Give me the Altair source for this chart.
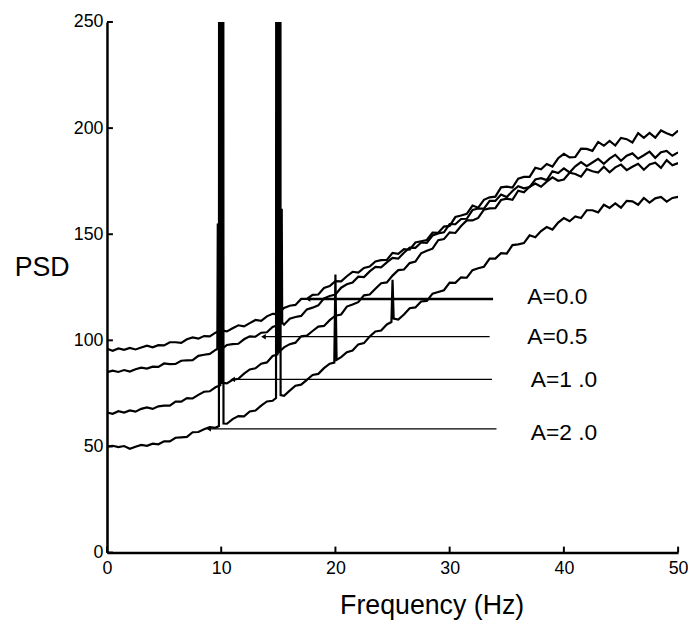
import altair as alt
import pandas as pd

FONT = "Liberation Sans, Arial, sans-serif"

# frequency grid (Hz), 0.5 Hz steps
FREQ = [i * 0.5 for i in range(101)]

# PSD values, one value per 0.5 Hz
A00 = [96.0, 95.1, 96.2, 95.5, 96.4, 95.7, 96.6, 97.5, 96.7, 97.7,
       97.6, 99.1, 99.1, 98.8, 100.5, 101.4, 100.8, 102.0, 101.9, 103.6,
       104.7, 104.2, 105.7, 107.1, 106.6, 108.1, 109.6, 109.2, 111.3, 112.5,
       112.4, 115.3, 116.3, 116.7, 119.5, 119.5, 121.4, 121.6, 124.7, 125.6,
       127.9, 127.8, 130.2, 132.3, 131.9, 134.1, 134.8, 137.2, 137.8, 137.9,
       141.2, 140.8, 143.0, 142.7, 146.1, 146.7, 147.3, 150.8, 150.7, 153.6,
       153.9, 158.1, 158.8, 159.6, 163.5, 162.5, 166.2, 167.4, 167.7, 172.1,
       172.4, 172.0, 176.2, 177.0, 177.0, 181.3, 180.6, 183.1, 181.9, 185.8,
       187.9, 186.2, 186.4, 190.3, 190.2, 189.3, 193.5, 191.7, 194.0, 191.8,
       195.4, 194.8, 193.2, 197.6, 195.4, 197.7, 195.5, 198.9, 197.6, 196.5,
       198.8]
A05 = [85.0, 85.7, 85.1, 86.0, 85.3, 86.4, 87.1, 86.7, 87.6, 87.5,
       89.1, 88.8, 88.9, 90.4, 90.6, 90.7, 92.7, 93.2, 93.6, 95.5,
       95.7, 97.8, 98.2, 98.4, 100.5, 101.9, 101.7, 103.6, 103.8, 106.3,
       107.2, 107.4, 110.2, 111.0, 111.5, 114.6, 115.4, 116.5, 119.8, 120.9,
       121.6, 124.8, 126.4, 127.2, 130.0, 129.8, 132.5, 134.6, 134.4, 136.7,
       138.8, 138.5, 141.3, 143.7, 143.6, 146.1, 145.9, 149.4, 150.4, 150.9,
       154.8, 154.7, 157.2, 157.3, 161.4, 162.1, 162.1, 165.7, 165.7, 168.7,
       167.5, 170.4, 172.6, 171.6, 172.2, 175.8, 176.4, 175.5, 179.7, 178.8,
       181.0, 179.1, 182.0, 184.0, 182.1, 183.8, 185.5, 183.2, 185.6, 187.4,
       184.6, 187.0, 188.1, 185.6, 187.2, 188.9, 186.0, 188.6, 189.3, 187.0,
       188.6]
A10 = [66.0, 65.4, 66.6, 66.0, 67.0, 66.4, 67.7, 68.4, 67.7, 68.9,
       69.2, 69.2, 71.1, 71.1, 72.8, 72.6, 74.3, 75.8, 76.0, 77.9,
       79.7, 79.7, 81.4, 81.9, 84.3, 86.3, 86.8, 89.0, 89.6, 92.6,
       93.5, 96.7, 98.2, 98.9, 101.9, 102.2, 104.4, 106.5, 106.8, 109.5,
       111.6, 112.2, 115.9, 116.9, 118.0, 121.2, 121.6, 124.3, 126.9, 127.3,
       130.5, 133.1, 133.4, 136.4, 137.1, 141.0, 142.2, 143.2, 147.2, 147.7,
       150.9, 150.6, 153.9, 156.5, 156.5, 157.7, 161.6, 162.2, 162.3, 166.1,
       166.8, 166.2, 170.5, 169.8, 172.4, 173.9, 172.4, 174.8, 176.8, 175.2,
       175.8, 179.0, 178.4, 177.1, 180.7, 179.7, 179.1, 181.8, 179.2, 181.5,
       182.8, 180.2, 181.8, 183.2, 180.4, 182.9, 183.7, 181.3, 184.9, 182.5,
       183.5]
A20 = [50.0, 50.3, 49.7, 50.2, 48.9, 49.9, 50.7, 50.3, 51.3, 51.0,
       52.4, 52.4, 54.1, 54.3, 54.5, 56.7, 56.8, 58.1, 59.1, 58.8,
       60.3, 60.7, 62.9, 64.3, 64.2, 66.5, 66.9, 69.2, 71.2, 71.5,
       73.5, 73.9, 76.3, 78.6, 79.1, 81.4, 83.7, 84.2, 86.9, 89.0,
       89.4, 92.1, 94.4, 95.2, 98.1, 98.7, 101.8, 104.2, 104.6, 107.5,
       109.9, 109.8, 112.2, 115.1, 115.5, 118.3, 118.6, 122.0, 122.8, 123.6,
       127.2, 127.1, 129.7, 129.5, 133.1, 134.0, 134.7, 138.5, 138.5, 141.1,
       140.9, 144.9, 145.2, 145.8, 149.5, 148.6, 151.5, 153.4, 152.2, 155.5,
       157.6, 156.1, 158.4, 157.6, 161.3, 161.3, 160.3, 163.9, 162.4, 164.5,
       162.5, 165.7, 165.5, 163.9, 167.1, 164.9, 166.9, 167.6, 165.4, 167.1,
       167.6]

CURVES = ["A=0.0", "A=0.5", "A=1 .0", "A=2 .0"]
SERIES = [A00, A05, A10, A20]
DC_VALUE = 0.0  # PSD at 0 Hz

# harmonic peaks (frequency, PSD); large values run off the top of the plot
SPIKES = {
    "A=0.5": [[(9.66, 95.9), (9.7, 155.0), (9.74, 96.2)],
              [(15.26, 108.0), (15.3, 162.0), (15.34, 108.4)]],
    "A=1 .0": [[(9.92, 78.8), (9.95, 400.0), (10.05, 400.0), (10.08, 80.0)],
               [(14.92, 93.3), (14.95, 400.0), (15.05, 400.0), (15.08, 94.6)]],
    "A=2 .0": [[(9.8, 59.6), (9.82, 400.0), (10.18, 400.0), (10.2, 60.8)],
               [(14.8, 72.8), (14.82, 400.0), (15.18, 400.0), (15.2, 74.2)],
               [(19.9, 89.5), (20.0, 131.0), (20.1, 90.8)],
               [(24.9, 108.6), (25.0, 128.5), (25.1, 110.2)]],
}

# annotation pointers and labels
POINTER_Y = [119.5, 101.7, 81.6, 58.3]
POINTER_X0 = [17.6, 13.7, 11.0, 8.9]
POINTER_X1 = [33.8, 33.5, 33.7, 34.1]
POINTER_W = [2.5, 1.3, 1.3, 1.3]
LABEL_X = [36.8, 36.8, 37.1, 37.1]
LABEL_Y = [120.3, 101.7, 81.2, 56.4]

X_TICKS = [0, 10, 20, 30, 40, 50]
Y_TICKS = [0, 50, 100, 150, 200, 250]

rows = []
for name, vals in zip(CURVES, SERIES):
    base = list(zip(FREQ, vals))
    groups = SPIKES.get(name, [])
    for g in groups:
        lo = min(p[0] for p in g)
        hi = max(p[0] for p in g)
        base = [p for p in base if not (lo <= p[0] <= hi)]
    merged = sorted(base + [p for g in groups for p in g])
    pts = [(0.0, DC_VALUE)] + merged
    for i, (f, v) in enumerate(pts):
        rows.append({"curve": name, "f": f, "psd": v, "i": i})
df = pd.DataFrame(rows)

ptr = pd.DataFrame({"label": CURVES, "y": POINTER_Y, "x0": POINTER_X0,
                    "x1": POINTER_X1, "w": POINTER_W,
                    "lx": LABEL_X, "ly": LABEL_Y})

xs = alt.Scale(domain=[0, 50], nice=False, zero=False)
ys = alt.Scale(domain=[0, 250], nice=False)

x_axis = alt.Axis(values=X_TICKS, ticks=False, grid=False, domainWidth=2.5,
                  domainColor="black", labelFontSize=18, labelFont=FONT,
                  labelColor="black", labelPadding=7, labelFlush=False,
                  title="Frequency (Hz)", titleFont=FONT, titleFontSize=27,
                  titleFontWeight="normal", titleColor="black",
                  titleX=328, titleY=62, titleAlign="center",
                  titleBaseline="alphabetic")
y_axis = alt.Axis(values=Y_TICKS, ticks=False, grid=False, domainWidth=2.5,
                  domainColor="black", labelFontSize=18, labelFont=FONT,
                  labelColor="black", labelPadding=4,
                  title="PSD", titleFont=FONT, titleFontSize=27,
                  titleFontWeight="normal", titleColor="black", titleAngle=0,
                  titleX=-66, titleY=248, titleAlign="center",
                  titleBaseline="middle")

lines = alt.Chart(df).mark_line(color="black", strokeWidth=2.2, clip=True).encode(
    x=alt.X("f:Q", scale=xs, axis=x_axis),
    y=alt.Y("psd:Q", scale=ys, axis=y_axis),
    detail="curve:N",
    order=alt.Order("i:Q"),
)

pointers = alt.Chart(ptr).mark_rule(color="black").encode(
    x=alt.X("x0:Q", scale=xs),
    x2="x1:Q",
    y=alt.Y("y:Q", scale=ys),
    strokeWidth=alt.StrokeWidth("w:Q", scale=None),
)

heads = alt.Chart(ptr).mark_point(shape="triangle-left", filled=True,
                                  color="black", size=30, opacity=1).encode(
    x=alt.X("x0:Q", scale=xs),
    y=alt.Y("y:Q", scale=ys),
)

labels = alt.Chart(ptr).mark_text(align="left", baseline="middle", font=FONT,
                                  fontSize=23, color="black").encode(
    x=alt.X("lx:Q", scale=xs),
    y=alt.Y("ly:Q", scale=ys),
    text="label:N",
)

xt = pd.DataFrame({"v": X_TICKS})
yt = pd.DataFrame({"v": Y_TICKS})
xticks = alt.Chart(xt).mark_rule(color="black", strokeWidth=2).encode(
    x=alt.X("v:Q", scale=xs), y=alt.value(536), y2=alt.value(530))
yticks = alt.Chart(yt).mark_rule(color="black", strokeWidth=2).encode(
    y=alt.Y("v:Q", scale=ys), x=alt.value(0), x2=alt.value(6))

chart = alt.layer(lines, pointers, heads, labels, xticks, yticks).properties(
    width=577, height=536,
    padding={"left": 100, "top": 11, "right": 10, "bottom": 67},
    autosize=alt.AutoSizeParams(type="none"),
    background="white",
).configure_view(stroke=None)

chart.save("out.html", embed_options={"renderer": "svg", "actions": False})
